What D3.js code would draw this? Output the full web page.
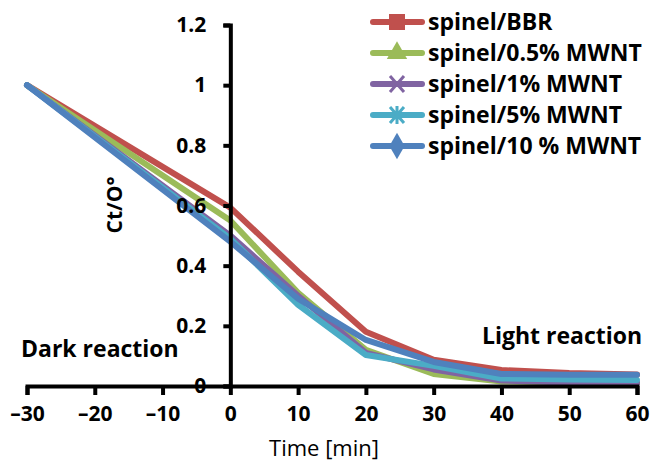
<!DOCTYPE html>
<html lang="en">
<head>
  <meta charset="UTF-8">
  <title>Ct/O vs time</title>
  <script src="https://cdn.jsdelivr.net/npm/d3@7"></script>
  <style>
    body { margin: 0; background: #fff; }
    text { font-family: "Open Sans", sans-serif; }
  </style>
</head>
<body>
  <svg class="svg"></svg>
  <script>
    const times = [-30, 0, 10, 20, 30, 40, 50, 60];
    const bbr = [1, 0.593, 0.38, 0.18, 0.087, 0.053, 0.043, 0.038];
    const mwnt05 = [1, 0.55, 0.31, 0.12, 0.04, 0.015, 0.012, 0.012];
    const mwnt1 = [1, 0.5, 0.3, 0.11, 0.055, 0.018, 0.012, 0.01];
    const mwnt5 = [1, 0.49, 0.27, 0.103, 0.067, 0.025, 0.022, 0.02];
    const mwnt10 = [1, 0.48, 0.29, 0.153, 0.08, 0.04, 0.037, 0.037];
    const seriesNames = ['spinel/BBR', 'spinel/0.5% MWNT', 'spinel/1% MWNT', 'spinel/5% MWNT', 'spinel/10 % MWNT'];
    const colors = ['#c0504d', '#9bbb59', '#8064a2', '#4bacc6', '#4f81bd'];
    const markers = ['square', 'triangle', 'x', 'asterisk', 'diamond'];
    const xTicks = [-30, -20, -10, 0, 10, 20, 30, 40, 50, 60];
    const yTicks = [0, 0.2, 0.4, 0.6, 0.8, 1, 1.2];

    const allSeries = [bbr, mwnt05, mwnt1, mwnt5, mwnt10];

    const w = 654;
    const h = 466;
    const fs = 21;
    const fsBig = 23;

    const xScale = d3.scaleLinear().domain([-30, 60]).range([27, 637]);
    const yScale = d3.scaleLinear().domain([0, 1.2]).range([386, 25]);

    const svg = d3.select('.svg')
      .attr('width', w)
      .attr('height', h);

    // lines
    const line = d3.line()
      .x((d, i) => xScale(times[i]))
      .y(d => yScale(d));

    svg.selectAll('path.series')
      .data(allSeries)
      .enter()
      .append('path')
      .attr('class', 'series')
      .attr('d', d => line(d))
      .attr('fill', 'none')
      .attr('stroke', (d, i) => colors[i])
      .attr('stroke-width', 6)
      .attr('stroke-linecap', 'round')
      .attr('stroke-linejoin', 'round');

    // y axis at x = 0
    const yAxis = d3.axisLeft(yScale)
      .tickValues(yTicks)
      .tickFormat(d => d === 0 ? '0' : String(+d.toFixed(1)))
      .tickSize(7)
      .tickPadding(17);

    const gy = svg.append('g')
      .attr('transform', 'translate(' + xScale(0) + ',0)')
      .call(yAxis);

    // x axis at y = 0
    const xAxis = d3.axisBottom(xScale)
      .tickValues(xTicks)
      .tickFormat(d => d < 0 ? '\u2013' + Math.abs(d) : String(d))
      .tickSize(9)
      .tickPadding(11);

    const gx = svg.append('g')
      .attr('transform', 'translate(0,' + yScale(0) + ')')
      .call(xAxis);

    [gx, gy].forEach(g => {
      g.select('.domain').attr('stroke', '#000').attr('stroke-width', 4);
      g.selectAll('.tick line').attr('stroke', '#000').attr('stroke-width', 4);
      g.selectAll('.tick text')
        .attr('fill', '#000')
        .style('font-size', fs + 'px')
        .style('font-weight', 'bold')
        .style('font-family', '"Open Sans", sans-serif');
    });
    gy.selectAll('.tick text').attr('dy', '0.32em');

    // axis titles
    svg.append('text')
      .attr('x', 324)
      .attr('y', 456)
      .attr('text-anchor', 'middle')
      .style('font-size', '22px')
      .text('Time [min]');

    svg.append('text')
      .attr('transform', 'translate(122,205) rotate(-90)')
      .attr('text-anchor', 'middle')
      .style('font-size', fs + 'px')
      .style('font-weight', 'bold')
      .text('Ct/O°');

    svg.append('text')
      .attr('x', 21)
      .attr('y', 357)
      .style('font-size', fsBig + 'px')
      .style('font-weight', 'bold')
      .text('Dark reaction');

    svg.append('text')
      .attr('x', 482)
      .attr('y', 344)
      .style('font-size', fsBig + 'px')
      .style('font-weight', 'bold')
      .text('Light reaction');

    // legend
    const rows = svg.append('g').selectAll('g')
      .data(seriesNames)
      .enter()
      .append('g')
      .attr('transform', (d, i) => 'translate(0,' + (22 + i * 31) + ')');

    rows.append('line')
      .attr('x1', 373).attr('x2', 422)
      .attr('y1', 0).attr('y2', 0)
      .attr('stroke', (d, i) => colors[i])
      .attr('stroke-width', 6)
      .attr('stroke-linecap', 'round');

    rows.each(function (d, i) {
      const g = d3.select(this);
      const c = colors[i];
      const cx = 397;
      if (markers[i] === 'square') {
        g.append('rect').attr('x', cx - 8).attr('y', -8).attr('width', 16).attr('height', 16).attr('fill', c);
      } else if (markers[i] === 'triangle') {
        g.append('path').attr('d', d3.symbol().type(d3.symbolTriangle).size(180)()).attr('transform', 'translate(' + cx + ',0)').attr('fill', c);
      } else if (markers[i] === 'x') {
        g.append('path').attr('d', 'M-7,-8L7,8M-7,8L7,-8').attr('transform', 'translate(' + cx + ',0)').attr('stroke', c).attr('stroke-width', 3);
      } else if (markers[i] === 'asterisk') {
        g.append('path').attr('d', 'M-7,-8L7,8M-7,8L7,-8M0,-9L0,9').attr('transform', 'translate(' + cx + ',0)').attr('stroke', c).attr('stroke-width', 3);
      } else {
        g.append('path').attr('d', d3.symbol().type(d3.symbolDiamond).size(200)()).attr('transform', 'translate(' + cx + ',0)').attr('fill', c);
      }
    });

    rows.append('text')
      .attr('x', 428)
      .attr('y', 0)
      .attr('dy', '0.35em')
      .style('font-size', fsBig + 'px')
      .style('font-weight', 'bold')
      .text(d => d);
  </script>
</body>
</html>
